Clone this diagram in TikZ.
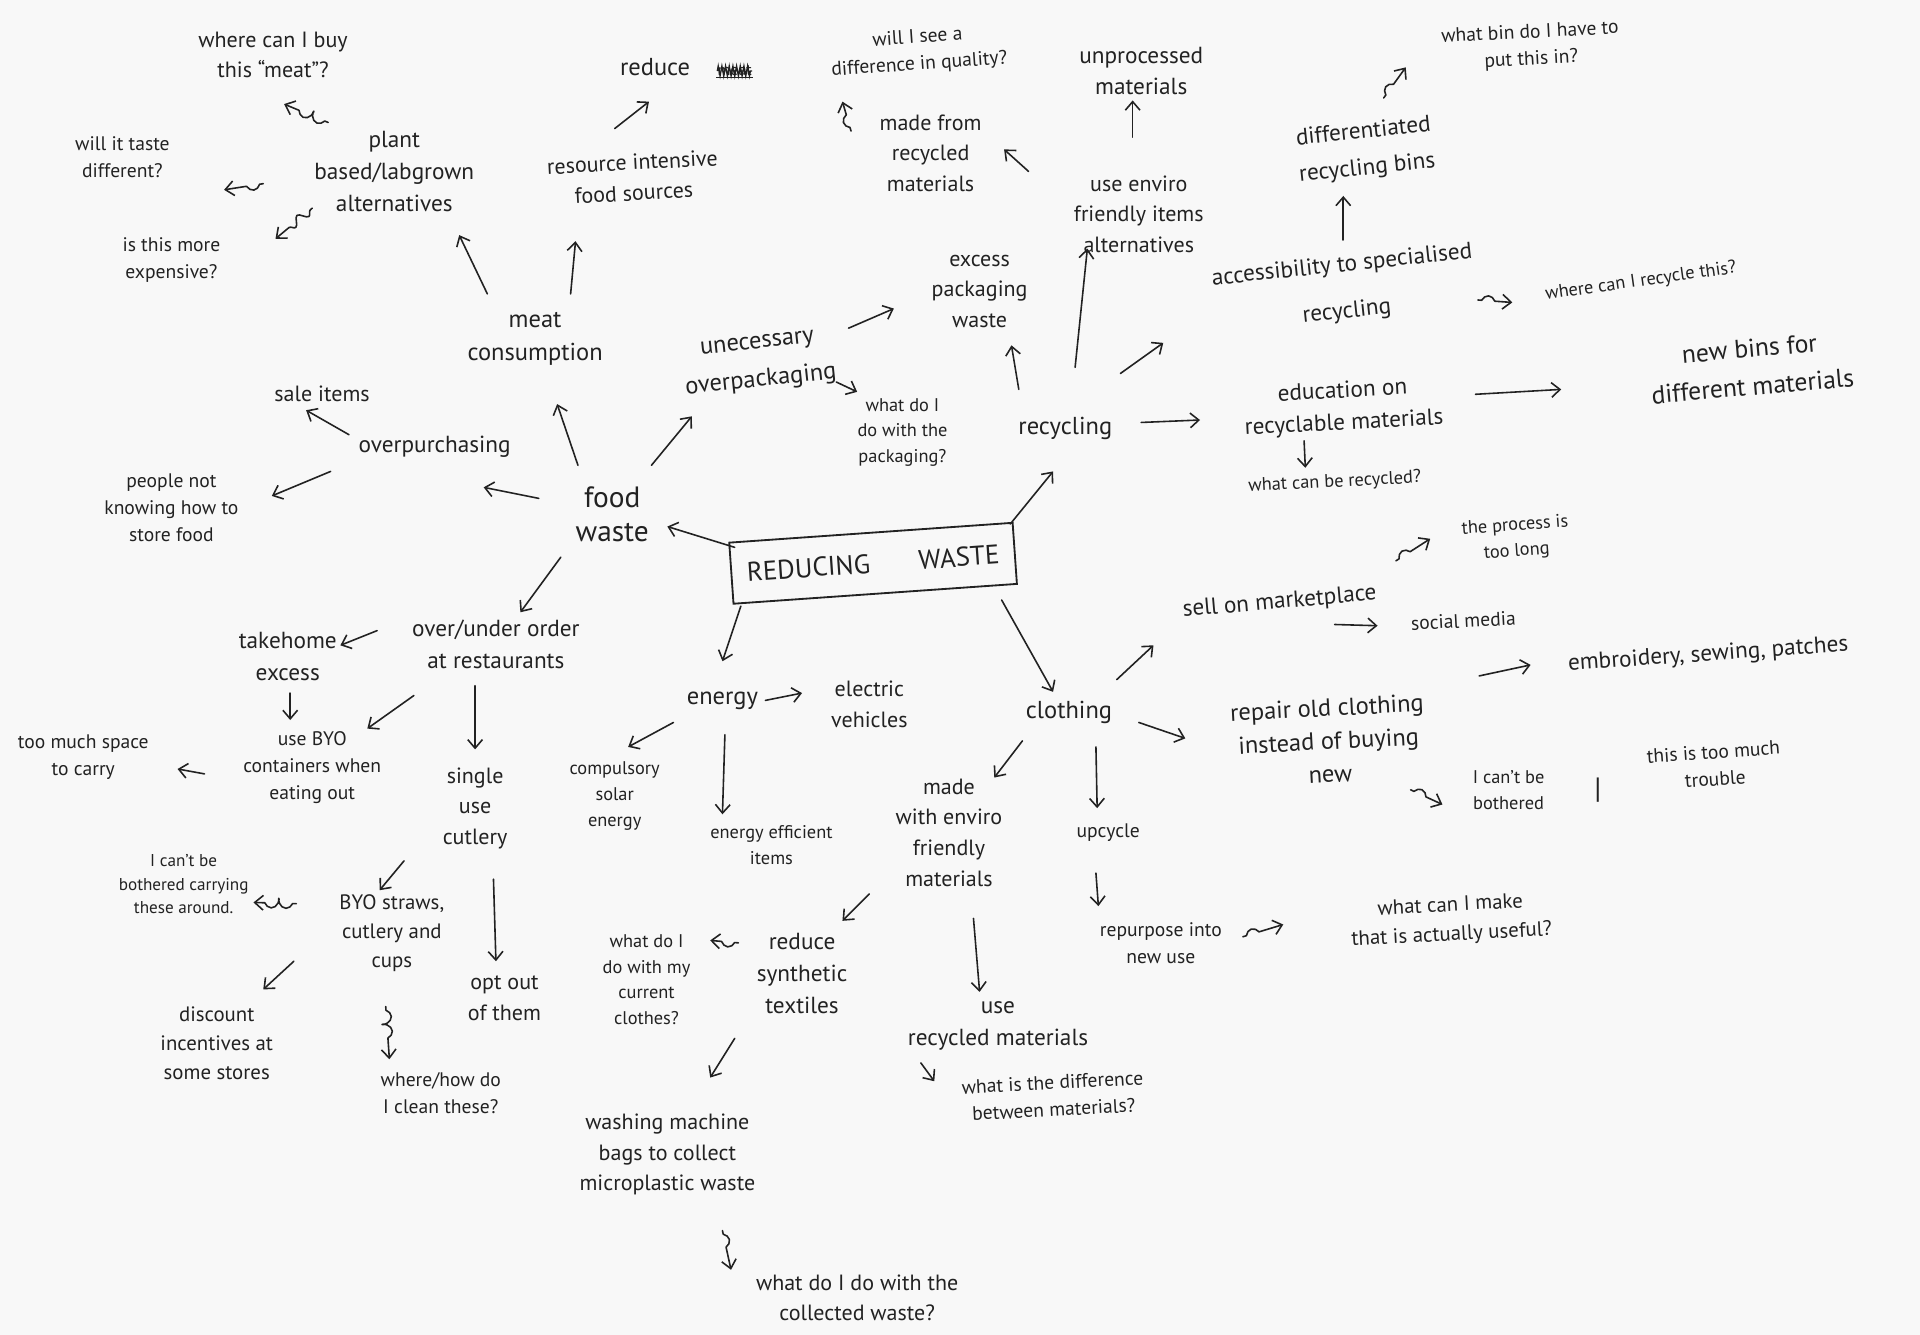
\documentclass[tikz,border=0pt]{standalone}
\usepackage{fontspec}
\setmainfont{PT Sans}
\usetikzlibrary{arrows.meta,decorations.pathmorphing,calc}
\definecolor{ink}{HTML}{222222}
\definecolor{paper}{HTML}{F8F8F8}
\tikzset{
  f13/.style={font=\fontsize{13}{18}\selectfont},
  f14/.style={font=\fontsize{14}{19}\selectfont},
  f15/.style={font=\fontsize{15}{21}\selectfont},
  f16/.style={font=\fontsize{16}{22}\selectfont},
  f17/.style={font=\fontsize{17}{24}\selectfont},
  f18/.style={font=\fontsize{18}{25}\selectfont},
  f19/.style={font=\fontsize{19}{26}\selectfont},
  f20/.style={font=\fontsize{20}{27}\selectfont},
  f21/.style={font=\fontsize{21}{28}\selectfont},
  f22/.style={font=\fontsize{22}{28}\selectfont},
  f24/.style={font=\fontsize{24}{28}\selectfont},
  arr/.style={draw=ink, line width=1.3pt, line cap=round, line join=round,
    -{Straight Barb[length=7pt,width=12pt,line width=1.3pt]}},
  curl/.style={arr, decorate, decoration={coil, aspect=0.6, amplitude=4pt,
    segment length=12pt, pre length=3pt, post length=9pt}},
  wave/.style={arr, decorate, decoration={snake, amplitude=3.5pt,
    segment length=14pt, pre length=2pt, post length=8pt}},
  centerbox/.style={draw=ink, line width=1.5pt, minimum width=232pt,
    minimum height=50pt, rotate=4},
}
\begin{document}
\begin{tikzpicture}[x=1pt,y=-1pt,
  every node/.style={text=ink, align=center, inner sep=3pt}]
\fill[paper] (0,0) rectangle (1568,1090);
\useasboundingbox (0,0) rectangle (1568,1090);

% ---------- centre ----------
\node[centerbox, f22] (center) at (713,460) {REDUCING\hspace{1.8em}WASTE};

% ---------- food waste branch ----------
\node[f24] (food) at (500,420) {food\\waste};
\node[f19] (overp) at (355,365) {overpurchasing};
\node[f18] (sale) at (263,322) {sale items};
\node[f16] (people) at (140,415) {people not\\knowing how to\\store food};
\node[f20] (meat) at (437,277) {meat\\consumption};
\node[f19] (plant) at (322,140) {plant\\based/labgrown\\alternatives};
\node[f18] (buy) at (223,45) {where can I buy\\this \textquotedblleft meat\textquotedblright?};
\node[f16] (taste) at (100,128) {will it taste\\different?};
\node[f16] (expens) at (140,212) {is this more\\expensive?};
\node[f18, rotate=3] (resource) at (517,145) {resource intensive\\food sources};
\node[f20] (reduce) at (535,55) {reduce};
\node[f13] (crossed) at (600,58) {meat};
\node[rotate=6, font=\fontsize{20}{31}\selectfont] (overpack) at (620,297) {unecessary\\overpackaging};
\node[f15] (whatpack) at (737,353) {what do I\\do with the\\packaging?};
\node[f19] (order) at (405,526) {over/under order\\at restaurants};
\node[f19] (takehome) at (235,536) {takehome\\excess};
\node[f16] (byo) at (255,627) {use BYO\\containers when\\eating out};
\node[f16] (space) at (68,618) {too much space\\to carry};
\node[f18] (single) at (388,660) {single\\use\\cutlery};
\node[f17] (straws) at (320,762) {BYO straws,\\cutlery and\\cups};
\node[f14] (bother) at (150,722) {I can't be\\bothered carrying\\these around.};
\node[f17] (discount) at (177,852) {discount\\incentives at\\some stores};
\node[f16] (clean) at (360,893) {where/how do\\I clean these?};
\node[f18] (optout) at (412,815) {opt out\\of them};

% ---------- energy branch ----------
\node[f20] (energy) at (590,572) {energy};
\node[f18] (ev) at (710,575) {electric\\vehicles};
\node[f15] (solar) at (502,650) {compulsory\\solar\\energy};
\node[f15] (effic) at (630,690) {energy efficient\\items};

% ---------- recycling branch ----------
\node[f20] (recyc) at (870,350) {recycling};
\node[f18] (excess) at (800,238) {excess\\packaging\\waste};
\node[f18] (useenv) at (930,175) {use enviro\\friendly items\\alternatives};
\node[f18] (madefrom) at (760,125) {made from\\recycled\\materials};
\node[f16, rotate=4] (quality) at (750,42) {will I see a\\difference in quality?};
\node[f19] (unproc) at (932,58) {unprocessed\\materials};
\node[rotate=6, font=\fontsize{19}{38}\selectfont] (access) at (1098,236) {accessibility to specialised\\recycling};
\node[f15, rotate=8] (where) at (1340,230) {where can I recycle this?};
\node[rotate=6, font=\fontsize{19}{30}\selectfont] (bins) at (1115,123) {differentiated\\recycling bins};
\node[f16, rotate=3] (whatbin) at (1250,38) {what bin do I have to\\put this in?};
\node[f19, rotate=3] (edu) at (1097,333) {education on\\recyclable materials};
\node[rotate=5, font=\fontsize{21}{31}\selectfont] (newbins) at (1430,300) {new bins for\\different materials};
\node[f15, rotate=3] (canbe) at (1090,394) {what can be recycled?};

% ---------- clothing branch ----------
\node[f20] (cloth) at (873,582) {clothing};
\node[f19, rotate=5] (sell) at (1045,492) {sell on marketplace};
\node[f15, rotate=4] (process) at (1238,440) {the process is\\too long};
\node[f16, rotate=3] (social) at (1195,507) {social media};
\node[f20, rotate=3] (repair) at (1085,605) {repair old clothing\\instead of buying\\new};
\node[f19, rotate=4] (embroid) at (1395,535) {embroidery, sewing, patches};
\node[f15] (cantbe) at (1232,645) {I can't be\\bothered};
\node[f24] (bar) at (1305,645) {|};
\node[f16, rotate=4] (trouble) at (1400,625) {this is too much\\trouble};
\node[f18] (madewith) at (775,680) {made\\with enviro\\friendly\\materials};
\node[f16] (upcycle) at (905,680) {upcycle};
\node[f16] (repurp) at (948,770) {repurpose into\\new use};
\node[f17, rotate=3] (make) at (1185,752) {what can I make\\that is actually useful?};
\node[f19] (synth) at (655,795) {reduce\\synthetic\\textiles};
\node[f15] (clothes) at (528,800) {what do I\\do with my\\current\\clothes?};
\node[f18] (washing) at (545,943) {washing machine\\bags to collect\\microplastic waste};
\node[f18] (collected) at (700,1060) {what do I do with the\\collected waste?};
\node[f19] (userec) at (815,838) {use\\recycled materials};
\node[f16, rotate=3] (diff) at (860,895) {what is the difference\\between materials?};

% ---------- crossed-out word ----------
\draw[ink, line width=1.1pt, decorate, decoration={zigzag, amplitude=4pt, segment length=3pt}]
  ($(crossed.west)+(3,0)$) -- ($(crossed.east)+(-3,0)$);
\draw[ink, line width=1pt] ($(crossed.south west)+(2,-2)$) -- ($(crossed.south east)+(-2,-2)$);

% ---------- connectors ----------
\draw[arr] ($(center)+(-113,-13)$) -- ($(food)+(45,10)$);
\draw[arr] ($(center)+(112,-32)$) -- ($(recyc)+(-10,35)$);
\draw[arr] ($(center)+(-108,35)$) -- ($(energy)+(0,-32)$);
\draw[arr] ($(center)+(105,30)$) -- ($(cloth)+(-13,-17)$);

\draw[arr] ($(food)+(-60,-13)$) -- ($(overp)+(40,33)$);
\draw[arr] ($(food)+(-28,-40)$) -- ($(meat)+(18,53)$);
\draw[arr] ($(food)+(32,-40)$) -- ($(overpack)+(-55,43)$);
\draw[arr] ($(food)+(-42,35)$) -- ($(order)+(20,-26)$);
\draw[arr] ($(overp)+(-70,-10)$) -- ($(sale)+(-13,13)$);
\draw[arr] ($(overp)+(-85,20)$) -- ($(people)+(82,-10)$);
\draw[arr] ($(meat)+(-39,-37)$) -- ($(plant)+(53,52)$);
\draw[arr] ($(meat)+(29,-37)$) -- ($(resource)+(-47,52)$);
\draw[arr] ($(resource)+(-15,-40)$) -- ($(reduce)+(-5,28)$);
\draw[curl] ($(plant)+(-54,-40)$) -- ($(buy)+(9,40)$);
\draw[curl] ($(plant)+(-107,10)$) -- ($(taste)+(83,27)$);
\draw[wave] ($(plant)+(-67,30)$) -- ($(expens)+(85,-17)$);
\draw[arr] ($(overpack)+(73,-29)$) -- ($(excess)+(-70,14)$);
\draw[curl] ($(overpack)+(63,15)$) -- ($(whatpack)+(-37,-33)$);

\draw[arr] ($(recyc)+(-38,-32)$) -- ($(excess)+(26,44)$);
\draw[arr] ($(recyc)+(8,-50)$) -- ($(useenv)+(-42,28)$);
\draw[arr] ($(recyc)+(45,-45)$) -- ($(access)+(-148,44)$);
\draw[arr] ($(recyc)+(62,-5)$) -- ($(edu)+(-117,10)$);
\draw[arr] ($(useenv)+(-90,-35)$) -- ($(madefrom)+(60,-3)$);
\draw[arr] ($(useenv)+(-5,-63)$) -- ($(unproc)+(-7,24)$);
\draw[curl] ($(madefrom)+(-65,-18)$) -- ($(quality)+(-62,41)$);
\draw[arr] ($(access)+(-1,-40)$) -- ($(bins)+(-18,37)$);
\draw[curl] ($(bins)+(15,-43)$) -- ($(whatbin)+(-102,17)$);
\draw[curl] ($(access)+(109,9)$) -- ($(where)+(-105,17)$);
\draw[arr] ($(edu)+(108,-11)$) -- ($(newbins)+(-155,18)$);
\draw[curl] ($(edu)+(-32,27)$) -- ($(canbe)+(-24,-12)$);

\draw[arr] ($(energy)+(35,0)$) -- ($(ev)+(-55,-9)$);
\draw[arr] ($(energy)+(-40,18)$) -- ($(solar)+(11,-40)$);
\draw[arr] ($(energy)+(2,28)$) -- ($(effic)+(-40,-25)$);

\draw[arr] ($(cloth)+(39,-27)$) -- ($(sell)+(-103,35)$);
\draw[arr] ($(cloth)+(57,8)$) -- ($(repair)+(-117,-2)$);
\draw[arr] ($(cloth)+(-38,23)$) -- ($(madewith)+(37,-45)$);
\draw[arr] ($(cloth)+(22,28)$) -- ($(upcycle)+(-9,-20)$);
\draw[arr] ($(upcycle)+(-10,33)$) -- ($(repurp)+(-51,-30)$);
\draw[curl] ($(repurp)+(67,-5)$) -- ($(make)+(-137,3)$);
\draw[arr] ($(sell)+(45,18)$) -- ($(social)+(-70,4)$);
\draw[curl] ($(sell)+(95,-34)$) -- ($(process)+(-70,0)$);
\draw[arr] ($(repair)+(123,-53)$) -- ($(embroid)+(-145,8)$);
\draw[curl] ($(repair)+(67,40)$) -- ($(cantbe)+(-54,12)$);
\draw[arr] ($(madewith)+(20,70)$) -- ($(userec)+(-15,-28)$);
\draw[arr] ($(madewith)+(-65,50)$) -- ($(synth)+(33,-43)$);
\draw[curl] ($(synth)+(-52,-25)$) -- ($(clothes)+(52,-32)$);
\draw[arr] ($(synth)+(-55,53)$) -- ($(washing)+(35,-63)$);
\draw[curl] ($(washing)+(45,62)$) -- ($(collected)+(-103,-23)$);
\draw[curl] ($(userec)+(-63,30)$) -- ($(diff)+(-97,-12)$);

\draw[arr] ($(order)+(-97,-11)$) -- ($(takehome)+(43,-9)$);
\draw[curl] ($(takehome)+(2,30)$) -- ($(byo)+(-18,-39)$);
\draw[arr] ($(order)+(-67,42)$) -- ($(byo)+(45,-32)$);
\draw[arr] ($(order)+(-17,34)$) -- ($(single)+(0,-48)$);
\draw[curl] ($(byo)+(-88,5)$) -- ($(space)+(77,10)$);
\draw[arr] ($(single)+(-58,43)$) -- ($(straws)+(-10,-35)$);
\draw[arr] ($(single)+(15,58)$) -- ($(optout)+(-7,-30)$);
\draw[curl] ($(straws)+(-78,-24)$) -- ($(bother)+(57,15)$);
\draw[arr] ($(straws)+(-80,23)$) -- ($(discount)+(38,-44)$);
\draw[curl] ($(straws)+(-5,60)$) -- ($(clean)+(-42,-28)$);
\end{tikzpicture}
\end{document}
